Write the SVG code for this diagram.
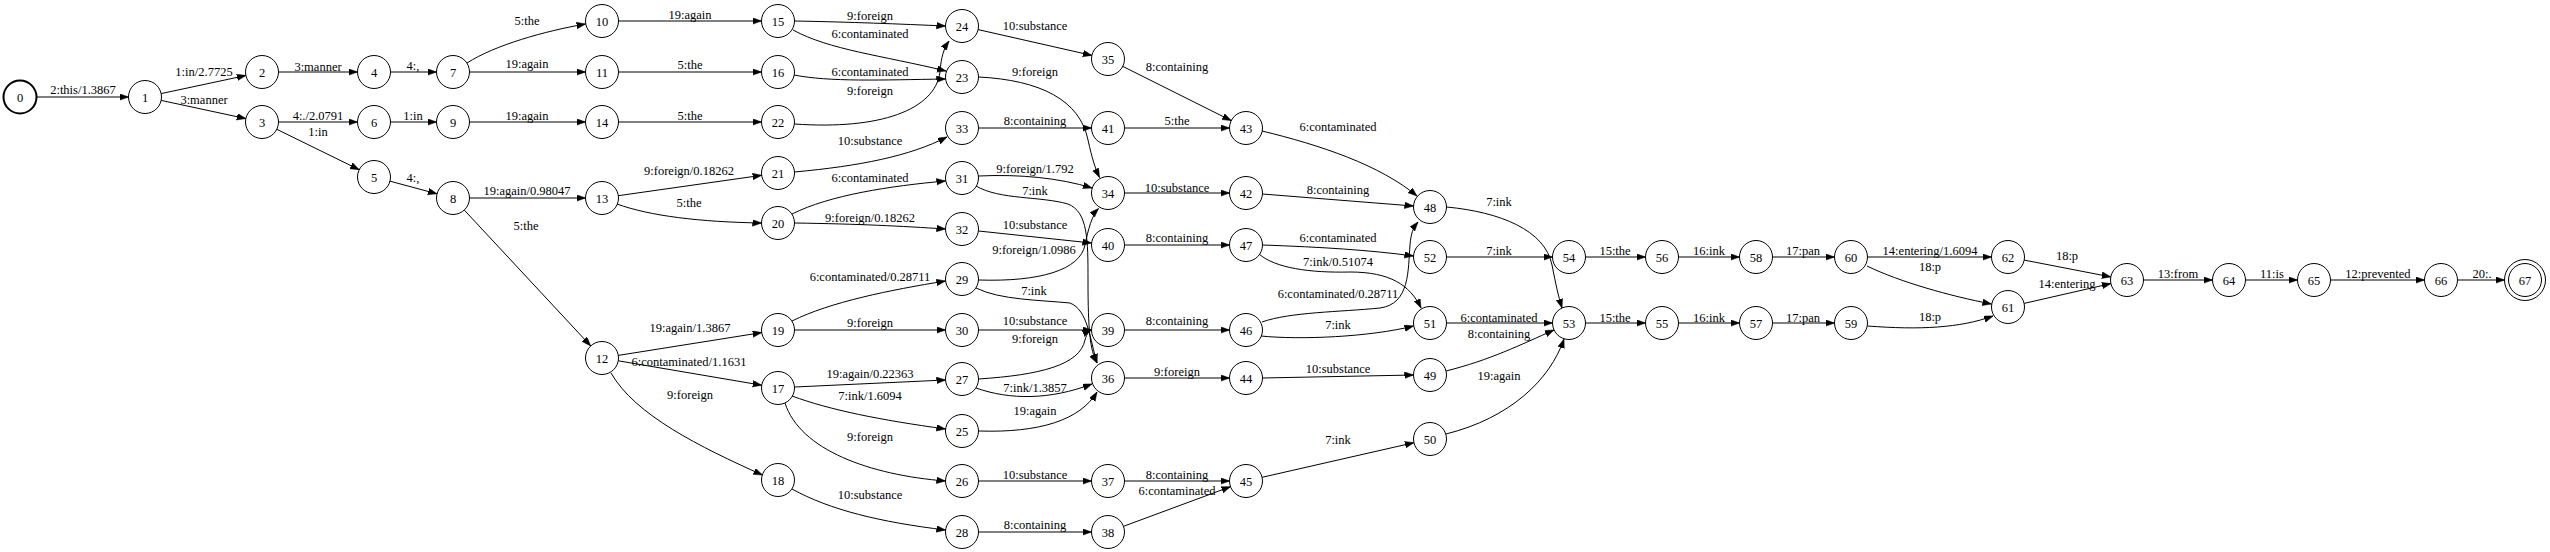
<svg xmlns="http://www.w3.org/2000/svg" width="2550" height="552" viewBox="0 0 2550 552">
<style>
text{font-family:"Liberation Serif","Times New Roman",serif;font-size:12.5px;text-anchor:middle;fill:#000}
.n circle{fill:none;stroke:#000;stroke-width:1}
#edges path{fill:none;stroke:#000;stroke-width:1;marker-end:url(#arr)}
</style>
<defs>
<marker id="arr" markerUnits="userSpaceOnUse" markerWidth="10" markerHeight="8" refX="9" refY="3.3" orient="auto">
<path d="M0,0 L9,3.3 L0,6.6 z" fill="#000" stroke="#000" stroke-width="0.5"/>
</marker>
</defs>
<rect width="2550" height="552" fill="#fff"/>
<g id="edges">
<g id="e0_1"><path d="M37,97 L128.5,97"/><text x="83" y="94">2:this/1.3867</text></g>
<g id="e1_2"><path d="M161.1,93.6 L245.9,75.5"/><text x="204" y="76">1:in/2.7725</text></g>
<g id="e1_3"><path d="M161.1,100.4 L245.9,118.6"/><text x="204" y="104">3:manner</text></g>
<g id="e2_4"><path d="M278.5,72 L357.5,72"/><text x="318" y="71">3:manner</text></g>
<g id="e3_6"><path d="M278.5,122 L357.5,122"/><text x="318" y="120">4:./2.0791</text></g>
<g id="e3_5"><path d="M276.8,129.3 L359.2,169.7"/><text x="318" y="136">1:in</text></g>
<g id="e4_7"><path d="M390.5,72 L436.5,72"/><text x="413" y="70">4:,</text></g>
<g id="e6_9"><path d="M390.5,122 L436.5,122"/><text x="413" y="120">1:in</text></g>
<g id="e5_8"><path d="M390,181.2 L437,193.8"/><text x="413" y="182">4:,</text></g>
<g id="e7_10"><path d="M467,63 C495,45 545,31 585.6,24"/><text x="527" y="25">5:the</text></g>
<g id="e7_11"><path d="M469.5,72 L585.5,72"/><text x="527" y="68">19:again</text></g>
<g id="e10_15"><path d="M618.5,21 L761.5,21"/><text x="690" y="19">19:again</text></g>
<g id="e11_16"><path d="M618.5,72 L761.5,72"/><text x="690" y="69">5:the</text></g>
<g id="e9_14"><path d="M469.5,122 L585.5,122"/><text x="527" y="120">19:again</text></g>
<g id="e14_22"><path d="M618.5,122 L761.5,122"/><text x="690" y="120">5:the</text></g>
<g id="e8_13"><path d="M469.5,198 L585.5,198"/><text x="527" y="195">19:again/0.98047</text></g>
<g id="e8_12"><path d="M464.3,210.1 L590.7,345.9"/><text x="526" y="230">5:the</text></g>
<g id="e13_21"><path d="M618.3,195.7 L761.7,175.3"/><text x="689" y="175">9:foreign/0.18262</text></g>
<g id="e13_20"><path d="M617,204 C650,216 700,222 761.5,223"/><text x="689" y="207">5:the</text></g>
<g id="e12_19"><path d="M618.3,355.4 L761.7,332.6"/><text x="690" y="332">19:again/1.3867</text></g>
<g id="e12_17"><path d="M618.3,360.8 L761.7,385.2"/><text x="689" y="366">6:contaminated/1.1631</text></g>
<g id="e12_18"><path d="M611,373 C635,415 700,447 762.5,475"/><text x="690" y="399">9:foreign</text></g>
<g id="e15_24"><path d="M794.5,21 C850,22 900,24 945.5,26"/><text x="870" y="20">9:foreign</text></g>
<g id="e15_23"><path d="M793,30 C830,50 880,55 946,71"/><text x="870" y="38">6:contaminated</text></g>
<g id="e16_23"><path d="M794,75 C830,82 880,80 945.5,79"/><text x="870" y="76">6:contaminated</text></g>
<g id="e22_24"><path d="M794.5,124 C880,130 935,110 940,72 C941,57 944,48 949,41"/><text x="870" y="95">9:foreign</text></g>
<g id="e21_33"><path d="M794.5,172 C860,166 910,156 947,137"/><text x="870" y="145">10:substance</text></g>
<g id="e20_31"><path d="M792,214 C830,195 890,186 945.5,181"/><text x="870" y="182">6:contaminated</text></g>
<g id="e20_32"><path d="M794.5,223 C860,224 900,226 945.5,229"/><text x="870" y="222">9:foreign/0.18262</text></g>
<g id="e19_29"><path d="M792,321 C830,302 890,290 945.5,281"/><text x="870" y="281">6:contaminated/0.28711</text></g>
<g id="e19_30"><path d="M794.5,330 L945.5,330"/><text x="870" y="327">9:foreign</text></g>
<g id="e17_27"><path d="M794.5,387 L945.5,380"/><text x="870" y="378">19:again/0.22363</text></g>
<g id="e17_25"><path d="M792,396 C830,410 880,420 945.5,429"/><text x="870" y="400">7:ink/1.6094</text></g>
<g id="e17_26"><path d="M785,403 C800,450 870,475 945.5,481"/><text x="870" y="441">9:foreign</text></g>
<g id="e18_28"><path d="M792,489 C830,510 880,522 945.5,530"/><text x="870" y="499">10:substance</text></g>
<g id="e24_35"><path d="M978.1,29.6 L1091.9,55.4"/><text x="1035" y="30">10:substance</text></g>
<g id="e23_34"><path d="M978.5,77 C1040,80 1080,100 1088,140 C1092,158 1095,168 1099.5,177.5"/><text x="1035" y="76">9:foreign</text></g>
<g id="e33_41"><path d="M978.5,128 L1091.5,128"/><text x="1035" y="125">8:containing</text></g>
<g id="e35_43"><path d="M1122.8,66.4 L1231.2,120.6"/><text x="1177" y="71">8:containing</text></g>
<g id="e41_43"><path d="M1124.5,128 L1229.5,128"/><text x="1177" y="125">5:the</text></g>
<g id="e31_34"><path d="M978.5,176 C1020,174 1060,178 1092,188"/><text x="1035" y="173">9:foreign/1.792</text></g>
<g id="e31_36"><path d="M976,186 C1000,200 1040,196 1068,204 C1088,212 1088,240 1088,280 C1088,330 1090,350 1097,363"/><text x="1035" y="195">7:ink</text></g>
<g id="e34_42"><path d="M1124.5,193 L1229.5,193"/><text x="1177" y="192">10:substance</text></g>
<g id="e32_40"><path d="M978.5,231 L1091.5,243"/><text x="1035" y="229">10:substance</text></g>
<g id="e29_34"><path d="M978.5,280 C1040,282 1080,270 1085,245 C1088,230 1092,215 1098.5,208.5"/><text x="1034" y="254">9:foreign/1.0986</text></g>
<g id="e40_47"><path d="M1124.5,245 L1229.5,245"/><text x="1177" y="242">8:containing</text></g>
<g id="e29_36"><path d="M976,288 C1000,300 1040,300 1070,303 C1088,310 1090,340 1097,363"/><text x="1034" y="295">7:ink</text></g>
<g id="e30_39"><path d="M978.5,330 L1091.5,330"/><text x="1035" y="325">10:substance</text></g>
<g id="e27_39"><path d="M978.5,379 C1040,375 1080,365 1085,340 C1087,333 1089,331 1091.5,330"/><text x="1035" y="343">9:foreign</text></g>
<g id="e27_36"><path d="M976,388 C1010,400 1050,400 1092,384"/><text x="1035" y="392">7:ink/1.3857</text></g>
<g id="e25_36"><path d="M978.5,431 C1040,433 1080,420 1097,392"/><text x="1035" y="415">19:again</text></g>
<g id="e26_37"><path d="M978.5,481 L1091.5,481"/><text x="1035" y="479">10:substance</text></g>
<g id="e28_38"><path d="M978.5,532 L1091.5,532"/><text x="1035" y="529">8:containing</text></g>
<g id="e39_46"><path d="M1124.5,330 L1229.5,330"/><text x="1177" y="325">8:containing</text></g>
<g id="e36_44"><path d="M1124.5,378 L1229.5,378"/><text x="1177" y="376">9:foreign</text></g>
<g id="e37_45"><path d="M1124.5,481 L1229.5,481"/><text x="1177" y="479">8:containing</text></g>
<g id="e38_45"><path d="M1123.5,526.3 L1230.5,486.7"/><text x="1177" y="495">6:contaminated</text></g>
<g id="e43_48"><path d="M1262,131 C1320,145 1380,165 1417,196"/><text x="1338" y="131">6:contaminated</text></g>
<g id="e42_48"><path d="M1262.5,194 L1413.5,206"/><text x="1338" y="194">8:containing</text></g>
<g id="e47_52"><path d="M1262.5,245 C1320,247 1370,250 1413.5,256"/><text x="1338" y="242">6:contaminated</text></g>
<g id="e47_51"><path d="M1259,254 C1275,268 1310,273 1350,272 C1390,272 1410,285 1421,308"/><text x="1338" y="266">7:ink/0.51074</text></g>
<g id="e46_48"><path d="M1262,322 C1290,312 1340,312 1380,308 C1410,304 1408,270 1410,245 C1411,233 1413,228 1418,222"/><text x="1338" y="298">6:contaminated/0.28711</text></g>
<g id="e46_51"><path d="M1261,336 C1300,340 1370,337 1413.5,326"/><text x="1338" y="329">7:ink</text></g>
<g id="e44_49"><path d="M1262.5,378 L1413.5,375"/><text x="1338" y="373">10:substance</text></g>
<g id="e45_50"><path d="M1262.1,477.3 L1413.9,442.7"/><text x="1338" y="444">7:ink</text></g>
<g id="e48_53"><path d="M1446.5,207 C1500,212 1545,230 1552,265 C1556,285 1558,295 1562,308"/><text x="1499" y="206">7:ink</text></g>
<g id="e52_54"><path d="M1446.5,257 L1552.5,257"/><text x="1499" y="255">7:ink</text></g>
<g id="e51_53"><path d="M1446.5,323 L1552.5,323"/><text x="1499" y="322">6:contaminated</text></g>
<g id="e49_53"><path d="M1446,371 C1490,360 1520,345 1554,330"/><text x="1499" y="338">8:containing</text></g>
<g id="e50_53"><path d="M1446,434 C1510,418 1550,380 1564,339"/><text x="1499" y="380">19:again</text></g>
<g id="e54_56"><path d="M1585.5,257 L1645.5,257"/><text x="1615" y="255">15:the</text></g>
<g id="e53_55"><path d="M1585.5,323 L1645.5,323"/><text x="1615" y="322">15:the</text></g>
<g id="e56_58"><path d="M1678.5,257 L1739.5,257"/><text x="1709" y="255">16:ink</text></g>
<g id="e55_57"><path d="M1678.5,323 L1739.5,323"/><text x="1709" y="322">16:ink</text></g>
<g id="e58_60"><path d="M1772.5,257 L1834.5,257"/><text x="1803" y="255">17:pan</text></g>
<g id="e57_59"><path d="M1772.5,323 L1834.5,323"/><text x="1803" y="322">17:pan</text></g>
<g id="e60_62"><path d="M1867.5,257 L1991.5,257"/><text x="1930" y="255">14:entering/1.6094</text></g>
<g id="e60_61"><path d="M1867,266 C1900,282 1950,296 1991.5,304"/><text x="1930" y="271">18:p</text></g>
<g id="e59_61"><path d="M1867.5,326 C1920,330 1960,328 1993,316"/><text x="1930" y="321">18:p</text></g>
<g id="e62_63"><path d="M2024.2,260.1 L2110.8,276.9"/><text x="2067" y="260">18:p</text></g>
<g id="e61_63"><path d="M2024.1,303.4 L2110.9,283.6"/><text x="2067" y="288">14:entering</text></g>
<g id="e63_64"><path d="M2143.5,280 L2212.5,280"/><text x="2178" y="278">13:from</text></g>
<g id="e64_65"><path d="M2245.5,280 L2297.5,280"/><text x="2272" y="278">11:is</text></g>
<g id="e65_66"><path d="M2330.5,280 L2424.5,280"/><text x="2378" y="278">12:prevented</text></g>
<g id="e66_67"><path d="M2457.5,280 L2504.5,280"/><text x="2482" y="278">20:.</text></g>
</g>
<g id="nodes">
<g id="n0" class="n"><circle cx="20" cy="97" r="16.5" style="stroke-width:2"/><text x="20" y="101.5">0</text></g>
<g id="n1" class="n"><circle cx="145" cy="97" r="16.5"/><text x="145" y="101.5">1</text></g>
<g id="n2" class="n"><circle cx="262" cy="72" r="16.5"/><text x="262" y="76.5">2</text></g>
<g id="n3" class="n"><circle cx="262" cy="122" r="16.5"/><text x="262" y="126.5">3</text></g>
<g id="n4" class="n"><circle cx="374" cy="72" r="16.5"/><text x="374" y="76.5">4</text></g>
<g id="n5" class="n"><circle cx="374" cy="177" r="16.5"/><text x="374" y="181.5">5</text></g>
<g id="n6" class="n"><circle cx="374" cy="122" r="16.5"/><text x="374" y="126.5">6</text></g>
<g id="n7" class="n"><circle cx="453" cy="72" r="16.5"/><text x="453" y="76.5">7</text></g>
<g id="n8" class="n"><circle cx="453" cy="198" r="16.5"/><text x="453" y="202.5">8</text></g>
<g id="n9" class="n"><circle cx="453" cy="122" r="16.5"/><text x="453" y="126.5">9</text></g>
<g id="n10" class="n"><circle cx="602" cy="21" r="16.5"/><text x="602" y="25.5">10</text></g>
<g id="n11" class="n"><circle cx="602" cy="72" r="16.5"/><text x="602" y="76.5">11</text></g>
<g id="n12" class="n"><circle cx="602" cy="358" r="16.5"/><text x="602" y="362.5">12</text></g>
<g id="n13" class="n"><circle cx="602" cy="198" r="16.5"/><text x="602" y="202.5">13</text></g>
<g id="n14" class="n"><circle cx="602" cy="122" r="16.5"/><text x="602" y="126.5">14</text></g>
<g id="n15" class="n"><circle cx="778" cy="21" r="16.5"/><text x="778" y="25.5">15</text></g>
<g id="n16" class="n"><circle cx="778" cy="72" r="16.5"/><text x="778" y="76.5">16</text></g>
<g id="n17" class="n"><circle cx="778" cy="388" r="16.5"/><text x="778" y="392.5">17</text></g>
<g id="n18" class="n"><circle cx="778" cy="480" r="16.5"/><text x="778" y="484.5">18</text></g>
<g id="n19" class="n"><circle cx="778" cy="330" r="16.5"/><text x="778" y="334.5">19</text></g>
<g id="n20" class="n"><circle cx="778" cy="223" r="16.5"/><text x="778" y="227.5">20</text></g>
<g id="n21" class="n"><circle cx="778" cy="173" r="16.5"/><text x="778" y="177.5">21</text></g>
<g id="n22" class="n"><circle cx="778" cy="122" r="16.5"/><text x="778" y="126.5">22</text></g>
<g id="n23" class="n"><circle cx="962" cy="77" r="16.5"/><text x="962" y="81.5">23</text></g>
<g id="n24" class="n"><circle cx="962" cy="26" r="16.5"/><text x="962" y="30.5">24</text></g>
<g id="n25" class="n"><circle cx="962" cy="431" r="16.5"/><text x="962" y="435.5">25</text></g>
<g id="n26" class="n"><circle cx="962" cy="481" r="16.5"/><text x="962" y="485.5">26</text></g>
<g id="n27" class="n"><circle cx="962" cy="379" r="16.5"/><text x="962" y="383.5">27</text></g>
<g id="n28" class="n"><circle cx="962" cy="532" r="16.5"/><text x="962" y="536.5">28</text></g>
<g id="n29" class="n"><circle cx="962" cy="279" r="16.5"/><text x="962" y="283.5">29</text></g>
<g id="n30" class="n"><circle cx="962" cy="330" r="16.5"/><text x="962" y="334.5">30</text></g>
<g id="n31" class="n"><circle cx="962" cy="178" r="16.5"/><text x="962" y="182.5">31</text></g>
<g id="n32" class="n"><circle cx="962" cy="229" r="16.5"/><text x="962" y="233.5">32</text></g>
<g id="n33" class="n"><circle cx="962" cy="128" r="16.5"/><text x="962" y="132.5">33</text></g>
<g id="n34" class="n"><circle cx="1108" cy="193" r="16.5"/><text x="1108" y="197.5">34</text></g>
<g id="n35" class="n"><circle cx="1108" cy="59" r="16.5"/><text x="1108" y="63.5">35</text></g>
<g id="n36" class="n"><circle cx="1108" cy="378" r="16.5"/><text x="1108" y="382.5">36</text></g>
<g id="n37" class="n"><circle cx="1108" cy="481" r="16.5"/><text x="1108" y="485.5">37</text></g>
<g id="n38" class="n"><circle cx="1108" cy="532" r="16.5"/><text x="1108" y="536.5">38</text></g>
<g id="n39" class="n"><circle cx="1108" cy="330" r="16.5"/><text x="1108" y="334.5">39</text></g>
<g id="n40" class="n"><circle cx="1108" cy="245" r="16.5"/><text x="1108" y="249.5">40</text></g>
<g id="n41" class="n"><circle cx="1108" cy="128" r="16.5"/><text x="1108" y="132.5">41</text></g>
<g id="n42" class="n"><circle cx="1246" cy="193" r="16.5"/><text x="1246" y="197.5">42</text></g>
<g id="n43" class="n"><circle cx="1246" cy="128" r="16.5"/><text x="1246" y="132.5">43</text></g>
<g id="n44" class="n"><circle cx="1246" cy="378" r="16.5"/><text x="1246" y="382.5">44</text></g>
<g id="n45" class="n"><circle cx="1246" cy="481" r="16.5"/><text x="1246" y="485.5">45</text></g>
<g id="n46" class="n"><circle cx="1246" cy="330" r="16.5"/><text x="1246" y="334.5">46</text></g>
<g id="n47" class="n"><circle cx="1246" cy="245" r="16.5"/><text x="1246" y="249.5">47</text></g>
<g id="n48" class="n"><circle cx="1430" cy="207" r="16.5"/><text x="1430" y="211.5">48</text></g>
<g id="n49" class="n"><circle cx="1430" cy="375" r="16.5"/><text x="1430" y="379.5">49</text></g>
<g id="n50" class="n"><circle cx="1430" cy="439" r="16.5"/><text x="1430" y="443.5">50</text></g>
<g id="n51" class="n"><circle cx="1430" cy="323" r="16.5"/><text x="1430" y="327.5">51</text></g>
<g id="n52" class="n"><circle cx="1430" cy="257" r="16.5"/><text x="1430" y="261.5">52</text></g>
<g id="n53" class="n"><circle cx="1569" cy="323" r="16.5"/><text x="1569" y="327.5">53</text></g>
<g id="n54" class="n"><circle cx="1569" cy="257" r="16.5"/><text x="1569" y="261.5">54</text></g>
<g id="n55" class="n"><circle cx="1662" cy="323" r="16.5"/><text x="1662" y="327.5">55</text></g>
<g id="n56" class="n"><circle cx="1662" cy="257" r="16.5"/><text x="1662" y="261.5">56</text></g>
<g id="n57" class="n"><circle cx="1756" cy="323" r="16.5"/><text x="1756" y="327.5">57</text></g>
<g id="n58" class="n"><circle cx="1756" cy="257" r="16.5"/><text x="1756" y="261.5">58</text></g>
<g id="n59" class="n"><circle cx="1851" cy="323" r="16.5"/><text x="1851" y="327.5">59</text></g>
<g id="n60" class="n"><circle cx="1851" cy="257" r="16.5"/><text x="1851" y="261.5">60</text></g>
<g id="n61" class="n"><circle cx="2008" cy="307" r="16.5"/><text x="2008" y="311.5">61</text></g>
<g id="n62" class="n"><circle cx="2008" cy="257" r="16.5"/><text x="2008" y="261.5">62</text></g>
<g id="n63" class="n"><circle cx="2127" cy="280" r="16.5"/><text x="2127" y="284.5">63</text></g>
<g id="n64" class="n"><circle cx="2229" cy="280" r="16.5"/><text x="2229" y="284.5">64</text></g>
<g id="n65" class="n"><circle cx="2314" cy="280" r="16.5"/><text x="2314" y="284.5">65</text></g>
<g id="n66" class="n"><circle cx="2441" cy="280" r="16.5"/><text x="2441" y="284.5">66</text></g>
<g id="n67" class="n"><circle cx="2525" cy="280" r="20.5"/><circle cx="2525" cy="280" r="16.5"/><text x="2525" y="284.5">67</text></g>
</g>
</svg>
